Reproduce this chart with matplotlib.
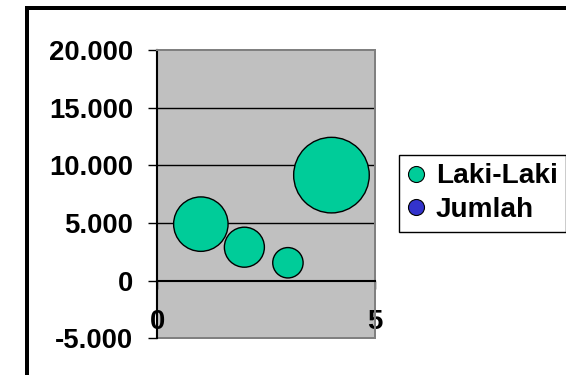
import matplotlib
matplotlib.use("Agg")
import matplotlib.pyplot as plt
from matplotlib.lines import Line2D
from matplotlib.patches import Rectangle
from matplotlib.ticker import FuncFormatter, FixedLocator

# Data
x_laki = [1, 2, 3, 4]
y_laki = [4900, 2900, 1550, 9150]
size_laki = [4850, 2620, 1510, 9350]
series_labels = ["Laki-Laki", "Jumlah"]
series_colors = ["#00CC99", "#3333CC"]
y_ticks = [-5000, 0, 5000, 10000, 15000, 20000]
x_ticks = [0, 5]

plt.rcParams["font.family"] = ["Liberation Sans", "DejaVu Sans"]
plt.rcParams["font.weight"] = "bold"

W, H, DPI = 566, 375, 100
fig = plt.figure(figsize=(W / DPI, H / DPI), dpi=DPI)
px = 72.0 / DPI  # points per pixel

ax = fig.add_axes([157.3 / W, (H - 338.3) / H, (375 - 157.3) / W, (338.3 - 50) / H])
ax.set_facecolor("#C0C0C0")
ax.set_xlim(0, 5)
ax.set_ylim(-5000, 20000)

# gridlines at the inner major ticks
for v in y_ticks:
    if v not in (y_ticks[0], y_ticks[-1], 0):
        ax.axhline(v, color="black", lw=1.4 * px, zorder=1)

# bubbles: marker area proportional to bubble size
max_r_px = 37.8
smax = max(size_laki)
s = [(2 * max_r_px * px) ** 2 * v / smax for v in size_laki]
ax.scatter(x_laki, y_laki, s=s, c=series_colors[0], edgecolors="black",
           linewidths=1.0, zorder=3, clip_on=False)

# spines
ax.spines["left"].set_color("black")
ax.spines["left"].set_linewidth(2.1 * px)
ax.spines["bottom"].set_position(("data", 0))
ax.spines["bottom"].set_color("black")
ax.spines["bottom"].set_linewidth(2.1 * px)
for side in ("top", "right"):
    ax.spines[side].set_color("#808080")
    ax.spines[side].set_linewidth(2 * px)
ax.add_patch(Rectangle((0, 0), 1, 0.0001, transform=ax.transAxes, fill=False,
                       ec="#808080", lw=2 * px, zorder=2, clip_on=False))

ax.yaxis.set_major_locator(FixedLocator(y_ticks))
ax.yaxis.set_major_formatter(FuncFormatter(lambda v, p: f"{int(round(v)):,}".replace(",", ".")))
ax.xaxis.set_major_locator(FixedLocator(x_ticks))
ax.tick_params(axis="y", direction="out", length=9 * px, width=1.4 * px,
               pad=15 * px, labelsize=27.5 * px, color="black")
ax.tick_params(axis="x", direction="out", length=8 * px, width=1.4 * px,
               pad=20 * px, labelsize=27.5 * px, color="black")
for lab in ax.get_xticklabels() + ax.get_yticklabels():
    lab.set_fontweight("bold")

# legend
handles = [Line2D([], [], ls="", marker="o", markersize=16 * px, mfc=c,
                  mec="black", mew=0.8) for c in series_colors]
leg = fig.legend(handles, series_labels, loc="upper left",
                 bbox_to_anchor=(399 / W, (H - 155) / H), borderaxespad=0,
                 prop={"size": 28 * px, "weight": "bold"},
                 handlelength=0.6, handletextpad=0.42, borderpad=0.3,
                 labelspacing=0.28, fancybox=False, framealpha=1,
                 edgecolor="black")
leg.get_frame().set_linewidth(1.4 * px)

# outer chart frame
fig.add_artist(Rectangle((27 / W, -0.1), 1.2, (H - 8) / H + 0.1,
                         transform=fig.transFigure, fill=False,
                         ec="black", lw=4 * px))

fig.savefig("out.png", dpi=DPI)
